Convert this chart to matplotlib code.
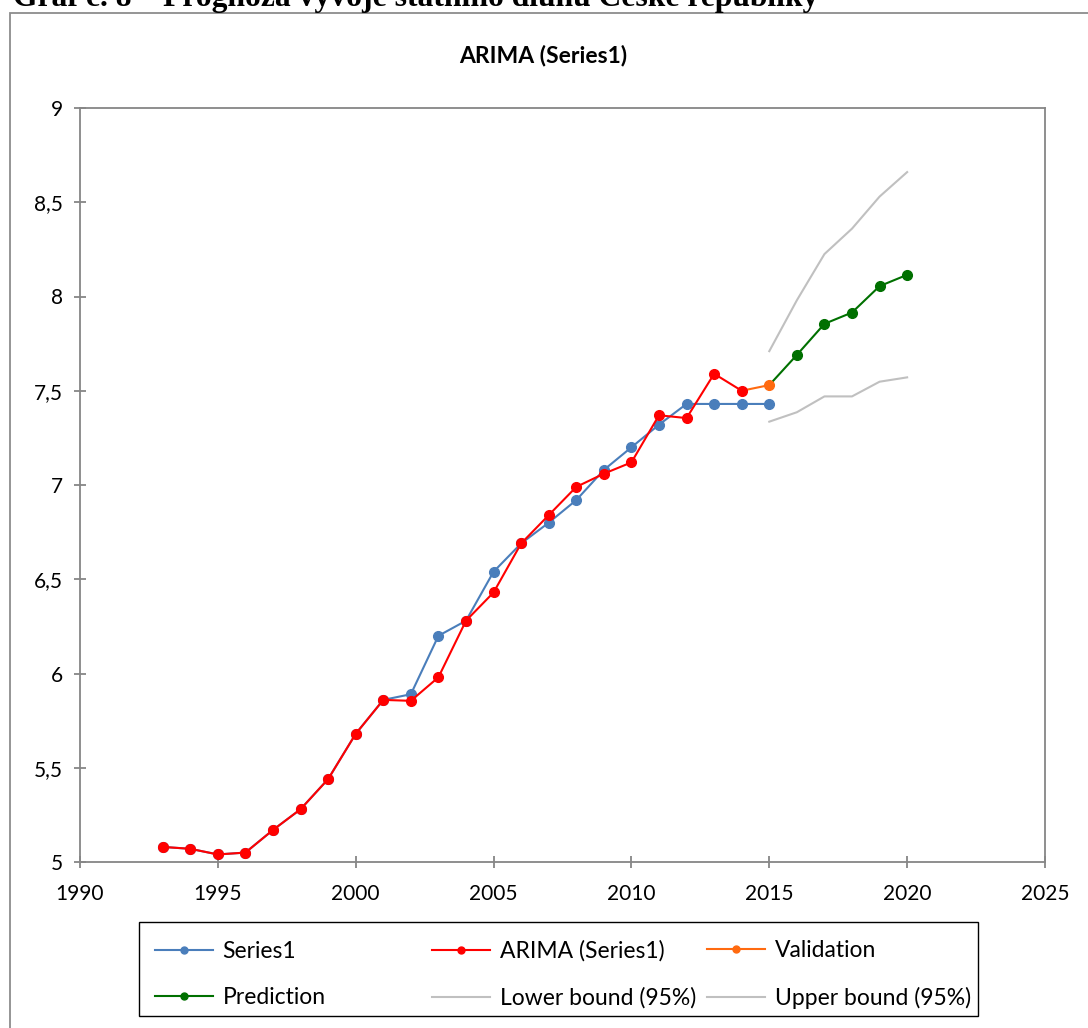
import matplotlib
matplotlib.use("Agg")
import matplotlib.pyplot as plt
from matplotlib.patches import Rectangle
from matplotlib.lines import Line2D

# ---------------- data ----------------
years_hist = list(range(1993, 2016))
series1 = [5.08, 5.07, 5.04, 5.05, 5.17, 5.28, 5.44, 5.68, 5.86, 5.89,
           6.20, 6.28, 6.54, 6.69, 6.80, 6.92, 7.08, 7.20, 7.32, 7.43,
           7.43, 7.43, 7.43]
years_arima = list(range(1993, 2015))
arima = [5.08, 5.07, 5.04, 5.05, 5.17, 5.28, 5.44, 5.68, 5.86, 5.855,
         5.98, 6.28, 6.43, 6.69, 6.84, 6.99, 7.06, 7.12, 7.37, 7.355,
         7.59, 7.50]
years_valid = [2014, 2015]
validation = [7.50, 7.53]
years_pred = [2015, 2016, 2017, 2018, 2019, 2020]
prediction = [7.53, 7.69, 7.855, 7.915, 8.055, 8.115]
years_bound = [2015, 2016, 2017, 2018, 2019, 2020]
lower = [7.336, 7.386, 7.47, 7.47, 7.548, 7.571]
upper = [7.71, 7.98, 8.225, 8.36, 8.53, 8.66]

xticks = [1990, 1995, 2000, 2005, 2010, 2015, 2020, 2025]
yticks = [5, 5.5, 6, 6.5, 7, 7.5, 8, 8.5, 9]
ytick_labels = ["5", "5,5", "6", "6,5", "7", "7,5", "8", "8,5", "9"]

chart_title = "ARIMA (Series1)"
page_caption = "Graf č. 8 – Prognóza vývoje státního dluhu České republiky"
legend_labels = ["Series1", "ARIMA (Series1)", "Validation",
                 "Prediction", "Lower bound (95%)", "Upper bound (95%)"]

# ---------------- style ----------------
W, H = 1088, 1028
DPI = 100
SANS = ["Lato", "DejaVu Sans"]
c_blue = "#4A7EBB"
c_red = "#FF0000"
c_orange = "#FF6A10"
c_green = "#007000"
c_grey = "#C0C0C0"
c_axis = "#868686"

plt.rcParams["font.family"] = SANS

fig = plt.figure(figsize=(W / DPI, H / DPI), dpi=DPI)

def fx(px):
    return px / W

def fy(py):
    return 1 - py / H

# outer chart border (left & top visible)
fig.patches.append(Rectangle((fx(10), fy(1040)), fx(1100) - fx(10), fy(13) - fy(1040),
                             transform=fig.transFigure, fill=False,
                             edgecolor="#8C8C8C", linewidth=1.3, zorder=0))

# page caption (cut at top, as in the source page)
fig.text(fx(13), fy(6), page_caption, family=["Liberation Serif", "DejaVu Serif"],
         fontweight="bold", fontsize=22.8, ha="left", va="baseline", color="black")

ax = fig.add_axes([fx(80), fy(862), fx(1045) - fx(80), fy(108) - fy(862)])

lw = 1.5
ms = 7
ax.plot(years_hist, series1, color=c_blue, lw=lw, marker="o", ms=ms, zorder=3)
ax.plot(years_valid, validation, color=c_orange, lw=lw, marker="o", ms=ms,
        markevery=[1], zorder=3.5)
ax.plot(years_arima, arima, color=c_red, lw=lw, marker="o", ms=ms, zorder=4)
ax.plot(years_pred, prediction, color=c_green, lw=lw, marker="o", ms=ms,
        markevery=list(range(1, len(years_pred))), zorder=3.2)
ax.plot(years_bound, lower, color=c_grey, lw=lw, zorder=2)
ax.plot(years_bound, upper, color=c_grey, lw=lw, zorder=2)

ax.set_xlim(1990, 2025)
ax.set_ylim(5, 9)
ax.set_xticks(xticks)
ax.set_xticklabels([str(v) for v in xticks])
ax.set_yticks(yticks)
ax.set_yticklabels(ytick_labels)
for sp in ax.spines.values():
    sp.set_color(c_axis)
    sp.set_linewidth(1.3)
ax.tick_params(axis="both", direction="inout", length=9, width=1.3, color=c_axis,
               labelsize=15, labelcolor="black")
ax.tick_params(axis="y", pad=8)
ax.tick_params(axis="x", pad=11)

fig.text(fx(543), fy(55), chart_title, fontsize=16.5, fontweight="bold",
         ha="center", va="center")

# legend: three columns, framed box
handles = [
    Line2D([], [], color=c_blue, lw=lw, marker="o", ms=5),
    Line2D([], [], color=c_red, lw=lw, marker="o", ms=5),
    Line2D([], [], color=c_orange, lw=lw, marker="o", ms=5),
    Line2D([], [], color=c_green, lw=lw, marker="o", ms=5),
    Line2D([], [], color=c_grey, lw=lw),
    Line2D([], [], color=c_grey, lw=lw),
]
fig.patches.append(Rectangle((fx(139), fy(1016)), fx(978) - fx(139), fy(922) - fy(1016),
                             transform=fig.transFigure, fill=False,
                             edgecolor="black", linewidth=1.0, zorder=5))
col_x = [155, 432, 707]
for ci in range(3):
    leg = fig.legend([handles[ci], handles[ci + 3]],
                     [legend_labels[ci], legend_labels[ci + 3]],
                     loc="center left", bbox_to_anchor=(fx(col_x[ci]), fy(974.5)),
                     frameon=False, borderpad=0, borderaxespad=0,
                     handlelength=2.55, handletextpad=0.4, labelspacing=1.12,
                     fontsize=16.5)

fig.savefig("out.png", dpi=DPI)
